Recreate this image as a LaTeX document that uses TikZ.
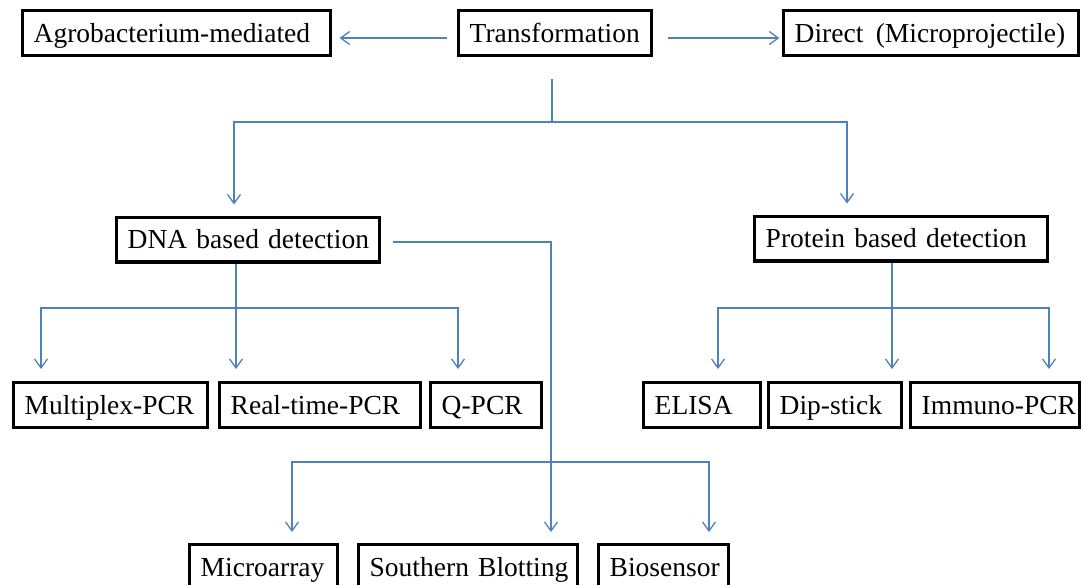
\documentclass[tikz,border=0pt]{standalone}
\usepackage{fontspec}
\setmainfont{Liberation Serif}
\usetikzlibrary{arrows.meta}
\definecolor{lineblue}{RGB}{79,129,189}
\begin{document}
\begin{tikzpicture}[x=1pt,y=-1pt,
  bx/.style={draw=black, line width=3.4pt, rectangle, inner xsep=11pt, inner ysep=2pt,
    text width=#1, align=left, minimum height=44.6pt, text height=22pt, text depth=4pt,
    font=\fontsize{27.5}{30}\selectfont},
  con/.style={draw=lineblue, line width=1.3pt},
  arr/.style={-{Straight Barb[length=9pt,width=13pt]}}]
\useasboundingbox (0,0) rectangle (1083,584);

% top row
\node[bx=285.6pt] (agro)   at (176.5,33) {\mbox{Agrobacterium-mediated}};
\node[bx=170.6pt] (trans)  at (555,33)   {\mbox{Transformation}};
\node[bx=272.6pt] (direct) at (931,33)   {\mbox{Direct\hspace{0.45em}(Microprojectile)}};

% second row
\node[bx=240.6pt] (dna)  at (248,239.5) {\mbox{DNA based detection}};
\node[bx=270.6pt] (prot) at (901,238.5) {\mbox{Protein based detection}};

% third row
\node[bx=171.6pt] (mult)   at (110.5,405) {\mbox{Multiplex-PCR}};
\node[bx=178.6pt] (real)   at (320,405)   {\mbox{Real-time-PCR}};
\node[bx=88.6pt]  (qpcr)   at (486,405)   {\mbox{Q-PCR}};
\node[bx=94.6pt]  (elisa)  at (702,405)   {\mbox{ELISA}};
\node[bx=110.6pt] (dip)    at (835,405)   {\mbox{Dip-stick}};
\node[bx=146.6pt] (immuno) at (995,405)   {\mbox{Immuno-PCR}};

% bottom row
\node[bx=125.6pt] (micro) at (263.5,567) {\mbox{Microarray}};
\node[bx=196.6pt] (south) at (468,567)   {\mbox{Southern Blotting}};
\node[bx=107.6pt] (bio)   at (663.5,567) {\mbox{Biosensor}};

% top arrows
\draw[con,arr] ([xshift=-9.6pt,yshift=-5pt]trans.west) -- ([xshift=7.6pt,yshift=-5pt]agro.east);
\draw[con,arr] ([xshift=15.4pt,yshift=-5pt]trans.east) -- ([xshift=-2.6pt,yshift=-5pt]direct.west);

% transformation to detection types
\coordinate (t1) at (552,122);
\draw[con] ([xshift=-3pt,yshift=-22pt]trans.south) -- (t1);
\draw[con,arr] (t1) -| ([xshift=-14pt,yshift=11pt]dna.north);
\draw[con,arr] (t1) -| ([xshift=-54pt,yshift=11pt]prot.north);

% DNA branch
\coordinate (d1) at (236,308);
\draw[con] ([xshift=-12pt]dna.south) -- (d1);
\draw[con,arr] (d1) -- ([xshift=-84pt,yshift=12pt]real.north);
\draw[con,arr] (d1) -| ([xshift=-69.5pt,yshift=12pt]mult.north);
\draw[con,arr] (d1) -| ([xshift=-28pt,yshift=12pt]qpcr.north);

% Protein branch
\coordinate (p1) at (892,308);
\draw[con] ([xshift=-9pt]prot.south) -- (p1);
\draw[con,arr] (p1) -- ([xshift=57pt,yshift=12pt]dip.north);
\draw[con,arr] (p1) -| ([xshift=16pt,yshift=12pt]elisa.north);
\draw[con,arr] (p1) -| ([xshift=54pt,yshift=12pt]immuno.north);

% DNA to bottom row
\draw[con,arr] ([xshift=12pt,yshift=-2.5pt]dna.east) -| ([xshift=83pt,yshift=11pt]south.north);
\coordinate (s1) at (551,462);
\draw[con,arr] (s1) -| ([xshift=28.5pt,yshift=11pt]micro.north);
\draw[con,arr] (s1) -| ([xshift=45.5pt,yshift=11pt]bio.north);
\end{tikzpicture}
\end{document}
